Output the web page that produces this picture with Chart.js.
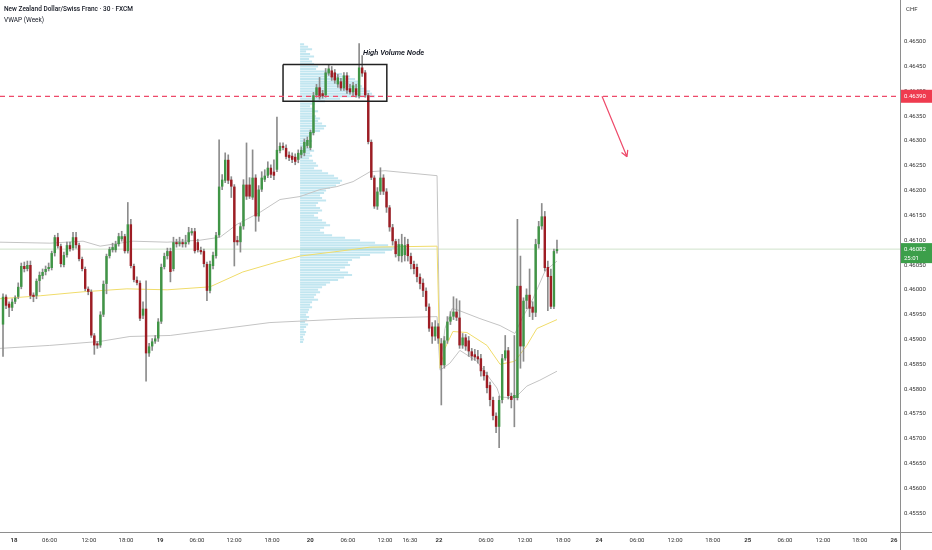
<!DOCTYPE html>
<html lang="en">
<head>
    <meta charset="UTF-8">
    <title>NZD/CHF 30</title>
    <script src="https://cdn.jsdelivr.net/npm/chart.js"></script>
    <style>
        html, body { margin: 0; padding: 0; background: #fff; }
        .wrap { position: relative; width: 932px; height: 550px; overflow: hidden; }
        #priceChart { position: absolute; left: 0; top: 0; }
        .legend {
            position: absolute; left: 4px; top: 4px;
            font-family: Roboto, sans-serif; font-size: 6.5px; line-height: 11px; color: #131722;
        }
        .legend .title { font-weight: 500; }
        .ccy { position: absolute; left: 906px; top: 5px; font-family: Roboto, sans-serif; font-size: 6px; color: #333; }
    </style>
</head>
<body>
<div class="wrap">
    <canvas id="priceChart" width="932" height="550"></canvas>
    <div class="legend">
        <div class="title">New Zealand Dollar/Swiss Franc · 30 · FXCM</div>
        <div>VWAP (Week)</div>
    </div>
    <div class="ccy">CHF</div>
</div>
<script>
    // 30 minute candles, one slot each (weekend removed)
    const opens = [
        0.45930, 0.45986, 0.45972, 0.45964, 0.45976, 0.45986, 0.46006, 0.46048, 0.46042, 0.46050,
        0.45990, 0.45988, 0.46018, 0.46028, 0.46036, 0.46042, 0.46044, 0.46074, 0.46106, 0.46088,
        0.46050, 0.46070, 0.46090, 0.46084, 0.46106, 0.46090, 0.46062, 0.46042, 0.46002, 0.45996,
        0.45908, 0.45892, 0.45888, 0.45950, 0.46012, 0.46068, 0.46080, 0.46080, 0.46092, 0.46102,
        0.46108, 0.46078, 0.46132, 0.46048, 0.46020, 0.46014, 0.45948, 0.45962, 0.45872, 0.45886,
        0.45896, 0.45902, 0.45936, 0.46046, 0.46068, 0.46078, 0.46042, 0.46096, 0.46092, 0.46096,
        0.46092, 0.46096, 0.46114, 0.46118, 0.46096, 0.46080, 0.46078, 0.46052, 0.45998, 0.46048,
        0.46068, 0.46110, 0.46208, 0.46220, 0.46262, 0.46222, 0.46208, 0.46100, 0.46096, 0.46128,
        0.46212, 0.46212, 0.46186, 0.46226, 0.46148, 0.46202, 0.46222, 0.46230, 0.46246, 0.46238,
        0.46242, 0.46280, 0.46290, 0.46286, 0.46272, 0.46270, 0.46268, 0.46262, 0.46272, 0.46276,
        0.46290, 0.46286, 0.46316, 0.46392, 0.46408, 0.46396, 0.46392, 0.46436, 0.46442, 0.46438,
        0.46414, 0.46420, 0.46406, 0.46432, 0.46406, 0.46398, 0.46406, 0.46390, 0.46448, 0.46438,
        0.46392, 0.46298, 0.46226, 0.46168, 0.46198, 0.46226, 0.46198, 0.46166, 0.46126, 0.46098,
        0.46068, 0.46068, 0.46070, 0.46092, 0.46068, 0.46052, 0.46046, 0.46026, 0.46014, 0.45998,
        0.45966, 0.45926, 0.45906, 0.45926, 0.45892, 0.45848, 0.45898, 0.45936, 0.45946, 0.45956,
        0.45944, 0.45888, 0.45904, 0.45898, 0.45876, 0.45870, 0.45866, 0.45862, 0.45838, 0.45828,
        0.45808, 0.45778, 0.45746, 0.45724, 0.45778, 0.45862, 0.45878, 0.45786, 0.45782, 0.45782,
        0.46008, 0.45886, 0.45978, 0.45990, 0.45966, 0.45954, 0.46092, 0.46128, 0.46148, 0.46046,
        0.46028, 0.45966, 0.46078
    ];
    const highs = [
        0.45992, 0.45990, 0.45976, 0.45982, 0.45988, 0.46014, 0.46054, 0.46056, 0.46058, 0.46058,
        0.45994, 0.46022, 0.46036, 0.46042, 0.46048, 0.46054, 0.46078, 0.46110, 0.46114, 0.46092,
        0.46076, 0.46096, 0.46096, 0.46116, 0.46116, 0.46094, 0.46066, 0.46046, 0.46006, 0.46000,
        0.45912, 0.45896, 0.45956, 0.46018, 0.46072, 0.46086, 0.46094, 0.46098, 0.46114, 0.46118,
        0.46112, 0.46176, 0.46142, 0.46052, 0.46026, 0.46018, 0.45976, 0.46018, 0.45892, 0.45902,
        0.45908, 0.45942, 0.46052, 0.46074, 0.46084, 0.46084, 0.46106, 0.46102, 0.46106, 0.46102,
        0.46110, 0.46126, 0.46124, 0.46124, 0.46102, 0.46086, 0.46082, 0.46056, 0.46058, 0.46076,
        0.46116, 0.46302, 0.46232, 0.46276, 0.46272, 0.46228, 0.46212, 0.46108, 0.46134, 0.46222,
        0.46296, 0.46226, 0.46282, 0.46232, 0.46210, 0.46238, 0.46242, 0.46258, 0.46252, 0.46262,
        0.46348, 0.46296, 0.46296, 0.46292, 0.46278, 0.46276, 0.46274, 0.46282, 0.46288, 0.46304,
        0.46308, 0.46322, 0.46398, 0.46414, 0.46428, 0.46402, 0.46446, 0.46454, 0.46450, 0.46444,
        0.46434, 0.46426, 0.46438, 0.46438, 0.46414, 0.46418, 0.46414, 0.46496, 0.46472, 0.46442,
        0.46396, 0.46302, 0.46230, 0.46206, 0.46246, 0.46232, 0.46204, 0.46170, 0.46132, 0.46102,
        0.46102, 0.46112, 0.46106, 0.46102, 0.46074, 0.46058, 0.46052, 0.46032, 0.46022, 0.46004,
        0.45972, 0.45934, 0.45938, 0.45932, 0.45902, 0.45906, 0.45946, 0.45956, 0.45986, 0.45982,
        0.45978, 0.45912, 0.45910, 0.45906, 0.45882, 0.45880, 0.45878, 0.45870, 0.45846, 0.45834,
        0.45814, 0.45784, 0.45752, 0.45786, 0.45870, 0.45908, 0.45884, 0.45792, 0.45908, 0.46142,
        0.46068, 0.45984, 0.46002, 0.46042, 0.45976, 0.46102, 0.46138, 0.46174, 0.46158, 0.46058,
        0.46042, 0.46082, 0.46100
    ];
    const lows = [
        0.45866, 0.45962, 0.45946, 0.45958, 0.45972, 0.45982, 0.46002, 0.46036, 0.46038, 0.45982,
        0.45976, 0.45982, 0.45996, 0.46022, 0.46030, 0.46038, 0.46040, 0.46068, 0.46084, 0.46046,
        0.46046, 0.46066, 0.46078, 0.46080, 0.46084, 0.46058, 0.46038, 0.45998, 0.45990, 0.45904,
        0.45870, 0.45882, 0.45884, 0.45946, 0.45992, 0.46064, 0.46076, 0.46076, 0.46088, 0.46098,
        0.46074, 0.46074, 0.46044, 0.46016, 0.46010, 0.45938, 0.45942, 0.45816, 0.45866, 0.45878,
        0.45892, 0.45896, 0.45932, 0.46042, 0.46062, 0.46016, 0.46038, 0.46086, 0.46088, 0.46086,
        0.46086, 0.46092, 0.46110, 0.46074, 0.46076, 0.46072, 0.46046, 0.45978, 0.45994, 0.46042,
        0.46064, 0.46106, 0.46202, 0.46216, 0.46214, 0.46186, 0.46048, 0.46090, 0.46076, 0.46122,
        0.46182, 0.46184, 0.46182, 0.46118, 0.46138, 0.46198, 0.46218, 0.46226, 0.46226, 0.46222,
        0.46238, 0.46276, 0.46282, 0.46264, 0.46260, 0.46256, 0.46252, 0.46256, 0.46266, 0.46270,
        0.46286, 0.46282, 0.46312, 0.46388, 0.46384, 0.46386, 0.46388, 0.46432, 0.46422, 0.46416,
        0.46408, 0.46402, 0.46402, 0.46396, 0.46394, 0.46390, 0.46388, 0.46386, 0.46430, 0.46388,
        0.46294, 0.46222, 0.46164, 0.46162, 0.46192, 0.46192, 0.46156, 0.46118, 0.46090, 0.46066,
        0.46058, 0.46056, 0.46058, 0.46058, 0.46042, 0.46032, 0.46016, 0.46002, 0.45986, 0.45958,
        0.45916, 0.45892, 0.45898, 0.45892, 0.45768, 0.45842, 0.45892, 0.45930, 0.45940, 0.45938,
        0.45882, 0.45882, 0.45878, 0.45866, 0.45858, 0.45858, 0.45852, 0.45826, 0.45818, 0.45792,
        0.45766, 0.45738, 0.45712, 0.45682, 0.45772, 0.45858, 0.45780, 0.45762, 0.45724, 0.45778,
        0.45842, 0.45856, 0.45962, 0.45946, 0.45940, 0.45946, 0.46084, 0.46122, 0.46038, 0.45958,
        0.45962, 0.45962, 0.46074
    ];
    const closes = [
        0.45986, 0.45968, 0.45964, 0.45976, 0.45984, 0.46006, 0.46048, 0.46042, 0.46050, 0.45988,
        0.45986, 0.46018, 0.46030, 0.46036, 0.46042, 0.46046, 0.46074, 0.46106, 0.46088, 0.46052,
        0.46070, 0.46090, 0.46082, 0.46106, 0.46090, 0.46062, 0.46042, 0.46002, 0.45996, 0.45908,
        0.45888, 0.45888, 0.45950, 0.46012, 0.46068, 0.46082, 0.46086, 0.46092, 0.46108, 0.46108,
        0.46078, 0.46132, 0.46048, 0.46020, 0.46014, 0.45942, 0.45962, 0.45872, 0.45886, 0.45896,
        0.45902, 0.45936, 0.46046, 0.46068, 0.46078, 0.46036, 0.46096, 0.46092, 0.46096, 0.46092,
        0.46096, 0.46116, 0.46118, 0.46078, 0.46080, 0.46076, 0.46052, 0.45998, 0.46052, 0.46070,
        0.46110, 0.46208, 0.46222, 0.46262, 0.46220, 0.46208, 0.46096, 0.46096, 0.46128, 0.46212,
        0.46188, 0.46188, 0.46226, 0.46148, 0.46202, 0.46226, 0.46230, 0.46246, 0.46232, 0.46230,
        0.46282, 0.46290, 0.46286, 0.46268, 0.46266, 0.46262, 0.46258, 0.46276, 0.46282, 0.46298,
        0.46302, 0.46318, 0.46392, 0.46408, 0.46388, 0.46390, 0.46438, 0.46446, 0.46428, 0.46422,
        0.46428, 0.46406, 0.46432, 0.46402, 0.46398, 0.46412, 0.46392, 0.46448, 0.46436, 0.46392,
        0.46298, 0.46226, 0.46168, 0.46198, 0.46226, 0.46198, 0.46166, 0.46126, 0.46098, 0.46072,
        0.46092, 0.46092, 0.46090, 0.46068, 0.46052, 0.46042, 0.46026, 0.46012, 0.45998, 0.45966,
        0.45922, 0.45906, 0.45926, 0.45902, 0.45848, 0.45898, 0.45936, 0.45946, 0.45956, 0.45944,
        0.45888, 0.45904, 0.45886, 0.45876, 0.45866, 0.45864, 0.45860, 0.45836, 0.45826, 0.45802,
        0.45778, 0.45746, 0.45724, 0.45778, 0.45862, 0.45878, 0.45786, 0.45778, 0.45788, 0.46008,
        0.45886, 0.45978, 0.45990, 0.45962, 0.45954, 0.46092, 0.46128, 0.46148, 0.46044, 0.46026,
        0.45966, 0.46078, 0.46082
    ];

    // time axis labels (slot positions) and price ticks
    const tickSlots = [3.6, 15.3, 28.2, 40.4, 51.6, 63.7, 75.9, 88.4, 100.9, 113.3, 125.5, 133.7, 143.2,
        158.7, 171.5, 184.0, 195.8, 208.3, 220.8, 233.2, 244.7, 256.9, 269.4, 281.5, 292.7];
    const tickText = ['18', '06:00', '12:00', '18:00', '19', '06:00', '12:00', '18:00', '20', '06:00', '12:00', '16:30', '22',
        '06:00', '12:00', '18:00', '24', '06:00', '12:00', '18:00', '25', '06:00', '12:00', '18:00', '26'];
    const yTicks = [0.4555, 0.4560, 0.4565, 0.4570, 0.4575, 0.4580, 0.4585, 0.4590, 0.4595, 0.4600,
        0.4605, 0.4610, 0.4615, 0.4620, 0.4625, 0.4630, 0.4635, 0.4640, 0.4645, 0.4650];

    // weekly VWAP and its bands
    const vwapSlots = [-1.0, 12.2, 26.3, 40.7, 53.9, 68.0, 78.8, 90.0, 97.6, 110.7, 120.6, 142.6,
        143.6, 145.2, 147.8, 152.4, 159.0, 163.3, 168.2, 172.1, 175.4, 182.0];
    const vwapPrices = [0.45982, 0.45988, 0.45996, 0.46002, 0.46000, 0.46006, 0.46036, 0.46056, 0.46068, 0.46078, 0.46086, 0.46088,
        0.45842, 0.45882, 0.45916, 0.45914, 0.45888, 0.45850, 0.45856, 0.45888, 0.45922, 0.45940];
    const upperSlots = [-1.0, 15.4, 26.3, 31.9, 42.7, 53.9, 64.7, 71.3, 76.9, 84.4, 91.0, 97.6, 104.1, 109.7, 115.0, 120.6, 125.5, 142.6,
        143.6, 145.2, 147.5, 149.1, 156.7, 163.3, 168.2, 170.5, 174.1, 178.1, 182.0];
    const upperPrices = [0.46096, 0.46094, 0.46098, 0.46088, 0.46098, 0.46096, 0.46100, 0.46106, 0.46132, 0.46156, 0.46182, 0.46188, 0.46202, 0.46208, 0.46218, 0.46238, 0.46240, 0.46230,
        0.45842, 0.45922, 0.45962, 0.45960, 0.45942, 0.45928, 0.45912, 0.45942, 0.45982, 0.46038, 0.46058];
    const lowerSlots = [-1.0, 15.4, 31.9, 41.7, 54.9, 87.7, 115.0, 142.6,
        143.6, 146.8, 150.1, 155.7, 162.3, 163.3, 168.2, 172.1, 176.4, 182.0];
    const lowerPrices = [0.45882, 0.45888, 0.45896, 0.45906, 0.45908, 0.45934, 0.45942, 0.45946,
        0.45838, 0.45852, 0.45878, 0.45856, 0.45802, 0.45784, 0.45782, 0.45806, 0.45818, 0.45836];

    // volume profile of the session that starts at slot profileStart
    const profileStart = 97.6;
    const profileLevels = [
        0.46495, 0.46490, 0.46485, 0.46480, 0.46475, 0.46470, 0.46465, 0.46460, 0.46455, 0.46450,
        0.46445, 0.46440, 0.46435, 0.46430, 0.46425, 0.46420, 0.46415, 0.46410, 0.46405, 0.46400,
        0.46395, 0.46390, 0.46385, 0.46380, 0.46375, 0.46370, 0.46365, 0.46360, 0.46355, 0.46350,
        0.46345, 0.46340, 0.46335, 0.46330, 0.46325, 0.46320, 0.46315, 0.46310, 0.46305, 0.46300,
        0.46295, 0.46290, 0.46285, 0.46280, 0.46275, 0.46270, 0.46265, 0.46260, 0.46255, 0.46250,
        0.46245, 0.46240, 0.46235, 0.46230, 0.46225, 0.46220, 0.46215, 0.46210, 0.46205, 0.46200,
        0.46195, 0.46190, 0.46185, 0.46180, 0.46175, 0.46170, 0.46165, 0.46160, 0.46155, 0.46150,
        0.46145, 0.46140, 0.46135, 0.46130, 0.46125, 0.46120, 0.46115, 0.46110, 0.46105, 0.46100,
        0.46095, 0.46090, 0.46085, 0.46080, 0.46075, 0.46070, 0.46065, 0.46060, 0.46055, 0.46050,
        0.46045, 0.46040, 0.46035, 0.46030, 0.46025, 0.46020, 0.46015, 0.46010, 0.46005, 0.46000,
        0.45995, 0.45990, 0.45985, 0.45980, 0.45975, 0.45970, 0.45965, 0.45960, 0.45955, 0.45950,
        0.45945, 0.45940, 0.45935, 0.45930, 0.45925, 0.45920, 0.45915, 0.45910, 0.45905, 0.45900,
        0.45895
    ];
    const profileVolume = [
        4, 8, 12, 6, 10, 14, 9, 12, 14, 18,
        16, 30, 42, 50, 55, 60, 58, 62, 66, 70,
        72, 75, 40, 25, 15, 10, 14, 18, 12, 16,
        20, 18, 22, 26, 24, 20, 14, 10, 8, 12,
        9, 7, 11, 14, 10, 12, 9, 13, 16, 18,
        14, 22, 28, 34, 38, 42, 40, 36, 30, 26,
        24, 20, 22, 26, 18, 16, 20, 22, 18, 14,
        18, 22, 26, 30, 24, 20, 24, 32, 45, 60,
        75, 88, 95, 92, 85, 70, 60, 52, 48, 50,
        45, 40, 48, 52, 44, 38, 30, 26, 22, 18,
        20, 16, 14, 18, 12, 10, 12, 9, 8, 6,
        9, 7, 5, 8, 6, 4, 6, 5, 3, 4,
        3
    ];
    const volToSlots = 1 / 3.044;

    // drawings
    const boxSlots = [92.0, 126.1, 126.1, 92.0, 92.0];
    const boxPrices = [0.46454, 0.46454, 0.46380, 0.46380, 0.46454];
    const levelPrice = 0.46390;
    const arrowSlots = [196.8, 205.0];
    const arrowPrices = [0.46390, 0.46268];
    const noteSlot = 118.3;
    const notePrice = 0.46476;
    const noteText = 'High Volume Node';
    const countdown = '25:01';

    const xMin = -0.99, xMax = 294.7;
    const yMin = 0.45512, yMax = 0.46584;
    const family = "Roboto, 'Noto Sans', sans-serif";
    const upColor = '#409546';
    const downColor = '#9e1d24';
    const lastClose = closes[closes.length - 1];

    const toPoints = (xs, ys) => xs.map((x, i) => ({ x: x, y: ys[i] }));

    const bodies = opens.map((o, i) => ({ x: i, y: [o, closes[i]] }));
    const bodyColors = opens.map((o, i) => closes[i] >= o ? upColor : downColor);
    const wicks = lows.map((l, i) => ({ x: i, y: [l, highs[i]] }));

    // each profile row is a short horizontal segment, separated by a gap
    const profilePoints = [];
    profileLevels.forEach((p, i) => {
        profilePoints.push({ x: profileStart, y: p });
        profilePoints.push({ x: profileStart + profileVolume[i] * volToSlots, y: p });
        profilePoints.push({ x: profileStart, y: null });
    });

    const overlay = {
        id: 'overlay',
        afterDraw(chart) {
            const { ctx, chartArea: area, scales: { x, y } } = chart;
            ctx.save();

            // axis frame
            ctx.strokeStyle = '#8e8e8e';
            ctx.lineWidth = 1;
            ctx.beginPath();
            const rx = Math.round(area.right) + 0.5, by = Math.round(area.bottom) + 0.5;
            ctx.moveTo(rx, 0); ctx.lineTo(rx, chart.height);
            ctx.moveTo(0, by); ctx.lineTo(chart.width, by);
            ctx.stroke();

            // arrow
            const x0 = x.getPixelForValue(arrowSlots[0]), y0 = y.getPixelForValue(arrowPrices[0]);
            const x1 = x.getPixelForValue(arrowSlots[1]), y1 = y.getPixelForValue(arrowPrices[1]);
            const ang = Math.atan2(y1 - y0, x1 - x0);
            ctx.strokeStyle = '#ee4a6a';
            ctx.lineWidth = 1.2;
            ctx.beginPath();
            ctx.moveTo(x0, y0); ctx.lineTo(x1, y1);
            [-0.5, 0.5].forEach(d => {
                ctx.moveTo(x1, y1);
                ctx.lineTo(x1 - 7 * Math.cos(ang + d), y1 - 7 * Math.sin(ang + d));
            });
            ctx.stroke();

            // note text
            ctx.fillStyle = '#131722';
            ctx.font = 'italic 600 7.5px ' + family;
            ctx.textBaseline = 'middle';
            ctx.textAlign = 'left';
            ctx.fillText(noteText, x.getPixelForValue(noteSlot), y.getPixelForValue(notePrice));

            // price tags on the axis
            const left = area.right + 1;
            ctx.font = '6px ' + family;
            let py = y.getPixelForValue(levelPrice);
            ctx.fillStyle = '#ef3b4f';
            ctx.fillRect(left, py - 6.5, chart.width - left, 13);
            ctx.fillStyle = '#fff';
            ctx.fillText(levelPrice.toFixed(5), left + 3, py);

            py = y.getPixelForValue(lastClose);
            ctx.fillStyle = '#3c9f4a';
            ctx.fillRect(left, py - 6, chart.width - left, 20);
            ctx.fillStyle = '#fff';
            ctx.fillText(lastClose.toFixed(5), left + 3, py);
            ctx.fillText(countdown, left + 3, py + 9);
            ctx.restore();
        }
    };

    new Chart(document.getElementById('priceChart'), {
        type: 'bar',
        data: {
            datasets: [
                {
                    type: 'line', data: [{ x: xMin, y: levelPrice }, { x: xMax, y: levelPrice }],
                    borderColor: '#ee4a6a', borderWidth: 1.2, borderDash: [5, 4], pointRadius: 0, order: 0
                },
                {
                    type: 'line', data: toPoints(boxSlots, boxPrices),
                    borderColor: '#222', borderWidth: 1.5, pointRadius: 0, order: 0
                },
                {
                    data: bodies, backgroundColor: bodyColors, grouped: false,
                    barPercentage: 0.8, categoryPercentage: 1, minBarLength: 1, order: 1
                },
                {
                    data: wicks, backgroundColor: '#8c8c8c', grouped: false,
                    barThickness: 1, order: 2
                },
                {
                    type: 'line', data: toPoints(vwapSlots, vwapPrices),
                    borderColor: '#f0dc6a', borderWidth: 1, pointRadius: 0, order: 3
                },
                {
                    type: 'line', data: toPoints(upperSlots, upperPrices),
                    borderColor: '#c4c4c4', borderWidth: 1, pointRadius: 0, order: 3
                },
                {
                    type: 'line', data: toPoints(lowerSlots, lowerPrices),
                    borderColor: '#c4c4c4', borderWidth: 1, pointRadius: 0, order: 3
                },
                {
                    type: 'line', data: profilePoints, spanGaps: false,
                    borderColor: 'rgba(120, 200, 222, 0.45)', borderWidth: 2, borderCapStyle: 'butt',
                    pointRadius: 0, order: 4
                },
                {
                    type: 'line', data: [{ x: xMin, y: lastClose }, { x: xMax, y: lastClose }],
                    borderColor: 'rgba(150, 190, 140, 0.45)', borderWidth: 1, pointRadius: 0, order: 5
                }
            ]
        },
        options: {
            responsive: false,
            animation: false,
            events: [],
            layout: { padding: 0 },
            plugins: { legend: { display: false }, tooltip: { enabled: false } },
            scales: {
                x: {
                    type: 'linear', min: xMin, max: xMax, offset: false,
                    grid: { display: false, drawTicks: false },
                    border: { display: false },
                    afterBuildTicks: s => { s.ticks = tickSlots.map(v => ({ value: v })); },
                    afterFit: s => { s.height = 18; s.paddingLeft = 0; s.paddingRight = 0; },
                    ticks: {
                        autoSkip: false, maxRotation: 0, padding: 5, color: '#333',
                        font: c => ({ family: family, size: 6, weight: (tickText[c.index] || '').includes(':') ? 'normal' : 'bold' }),
                        callback: (v, i) => tickText[i]
                    }
                },
                y: {
                    position: 'right', min: yMin, max: yMax,
                    grid: { display: false, drawTicks: false },
                    border: { display: false },
                    afterBuildTicks: s => { s.ticks = yTicks.map(v => ({ value: v })); },
                    afterFit: s => { s.width = 32; s.paddingTop = 0; s.paddingBottom = 0; },
                    ticks: {
                        padding: 4, color: '#333',
                        font: { family: family, size: 6 },
                        callback: v => v.toFixed(5)
                    }
                }
            }
        },
        plugins: [overlay]
    });
</script>
</body>
</html>
